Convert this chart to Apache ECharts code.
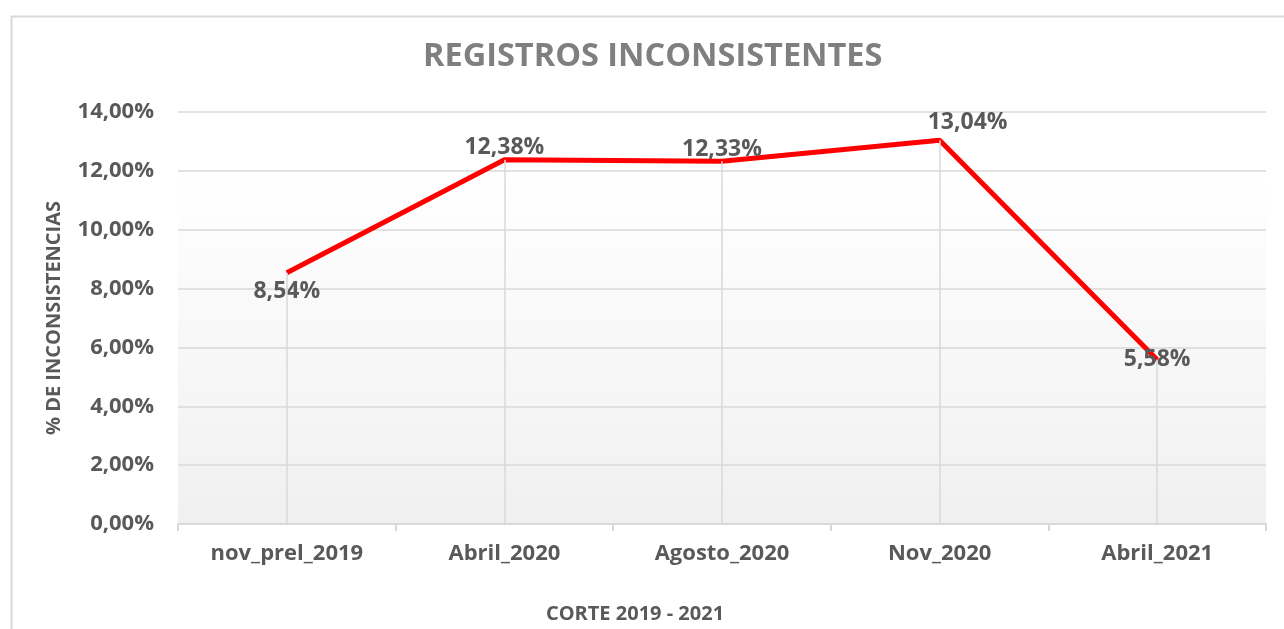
<!DOCTYPE html>
<html>
<head>
<meta charset="utf-8">
<script src="https://cdn.jsdelivr.net/npm/echarts@6/dist/echarts.min.js"></script>
<style>
  html, body { margin: 0; padding: 0; background: #fff; }
  #chart { width: 1284px; height: 629px; }
</style>
</head>
<body>
<div id="chart"></div>
<script>
const categories = ['nov_prel_2019', 'Abril_2020', 'Agosto_2020', 'Nov_2020', 'Abril_2021'];
const values = [8.54, 12.38, 12.33, 13.04, 5.58];
const labelPositions = ['bottom', 'top', 'top', 'top', 'inside'];
const labelOffsets = [[0, 0], [0, 0], [0, 0], [28, 0], [0, 0]];
const labelDistances = [7, 0, 0, 6, 0];

const fmt = v => v.toFixed(2).replace('.', ',') + '%';
const textColor = '#595959';
const fontFamily = '"Open Sans", Lato, sans-serif';

const chart = echarts.init(document.getElementById('chart'), null, { renderer: 'canvas' });

chart.setOption({
  backgroundColor: '#fff',
  textStyle: { fontFamily: fontFamily },
  title: {
    text: 'REGISTROS INCONSISTENTES',
    left: 418,
    top: 35,
    textStyle: { color: '#7f7f7f', fontSize: 32.5, fontWeight: 'bold', fontFamily: fontFamily }
  },
  graphic: [{
    type: 'rect',
    left: 9, top: 14,
    shape: { width: 1300, height: 700 },
    style: { fill: 'none', stroke: '#d9d9d9', lineWidth: 2 },
    silent: true
  }],
  grid: {
    left: 178, right: 18, top: 112, bottom: 104,
    show: true,
    borderWidth: 0,
    backgroundColor: new echarts.graphic.LinearGradient(0, 0, 0, 1, [
      { offset: 0, color: '#ffffff' },
      { offset: 0.15, color: '#ffffff' },
      { offset: 1, color: '#f0f0f0' }
    ])
  },
  xAxis: {
    type: 'category',
    data: categories,
    boundaryGap: true,
    name: 'CORTE 2019 - 2021',
    nameLocation: 'middle',
    nameGap: 80,
    nameTextStyle: { color: textColor, fontSize: 20, fontWeight: 'bold', fontFamily: fontFamily, padding: [0, 174, 0, 0] },
    axisLine: { lineStyle: { color: '#d9d9d9', width: 2 } },
    axisTick: { show: true, length: 7, lineStyle: { color: '#d9d9d9', width: 2 } },
    axisLabel: { color: textColor, fontSize: 22, fontWeight: 'bold', margin: 19, fontFamily: fontFamily },
    splitLine: { show: false }
  },
  yAxis: {
    type: 'value',
    min: 0,
    max: 14,
    interval: 2,
    name: '% DE INCONSISTENCIAS',
    nameLocation: 'middle',
    nameGap: 114,
    nameRotate: 90,
    nameTextStyle: { color: textColor, fontSize: 20, fontWeight: 'bold', fontFamily: fontFamily },
    axisLine: { show: false },
    axisTick: { show: false },
    axisLabel: { color: textColor, fontSize: 22, fontWeight: 'bold', margin: 24, formatter: fmt, fontFamily: fontFamily },
    splitLine: { lineStyle: { color: '#d9d9d9', width: 1.5 } }
  },
  series: [
    {
      // drop lines from each point down to the axis
      type: 'line',
      data: [],
      z: 1,
      markLine: {
        silent: true,
        symbol: 'none',
        label: { show: false },
        lineStyle: { color: '#d9d9d9', width: 1.5, type: 'solid' },
        data: values.map((v, i) => [{ coord: [i, v] }, { coord: [i, 0] }])
      }
    },
    {
      type: 'line',
      z: 3,
      data: values.map((v, i) => ({
        value: v,
        label: { position: labelPositions[i], offset: labelOffsets[i], distance: labelDistances[i] }
      })),
      symbol: 'circle',
      symbolSize: 1,
      showSymbol: true,
      lineStyle: { color: '#ff0000', width: 5 },
      itemStyle: { color: '#ff0000' },
      label: {
        show: true,
        color: textColor,
        fontSize: 23,
        fontWeight: 'bold',
        fontFamily: fontFamily,
        formatter: p => fmt(p.value)
      }
    }
  ]
});
</script>
</body>
</html>
